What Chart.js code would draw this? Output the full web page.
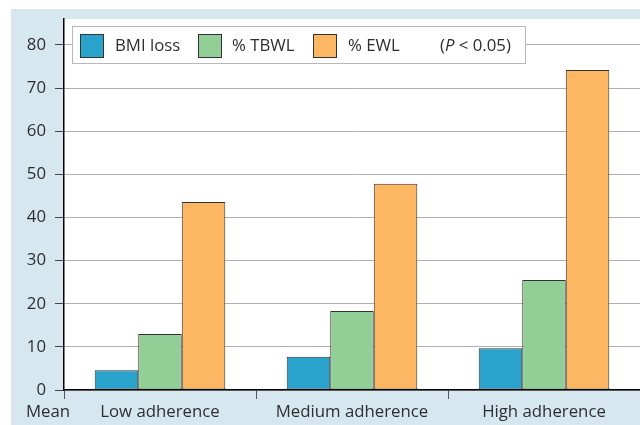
<!DOCTYPE html>
<html>
<head>
<meta charset="utf-8">
<script src="https://cdn.jsdelivr.net/npm/chart.js@4/dist/chart.umd.min.js"></script>
<style>
  html, body { margin: 0; padding: 0; background: #ffffff; }
  #wrap { position: relative; width: 640px; height: 425px; overflow: hidden; }
  #panel { position: absolute; left: 11px; top: 9px; width: 629px; height: 416px; background: #d7e7f0; }
  #c { position: absolute; left: 0; top: 0; }
</style>
</head>
<body>
<div id="wrap">
  <div id="panel"></div>
  <canvas id="c" width="640" height="425"></canvas>
</div>
<script>
const categories = ['Low adherence', 'Medium adherence', 'High adherence'];
const seriesNames = ['BMI loss', '% TBWL', '% EWL'];
const bmiLoss = [4.6, 7.7, 9.7];
const tbwl = [13.0, 18.3, 25.5];
const ewl = [43.6, 47.8, 74.2];
const yTicks = [0, 10, 20, 30, 40, 50, 60, 70, 80];
const extraAxisLabel = 'Mean';
const noteText = '(P < 0.05)';

const FONT = "'Open Sans', sans-serif";
const FS = 16.8;
const TEXT = '#2e2e2e';
const colors = ['#29a3cc', '#92cf96', '#fdb762'];

const bgPlugin = {
  id: 'bg',
  beforeDraw(chart) {
    const { ctx, chartArea: a } = chart;
    ctx.save();
    ctx.fillStyle = '#ffffff';
    ctx.fillRect(a.left, a.top, a.right - a.left, a.bottom - a.top);
    ctx.restore();
  }
};

const overlayPlugin = {
  id: 'overlay',
  afterDraw(chart) {
    const { ctx, chartArea: a } = chart;
    ctx.save();
    ctx.font = FS + 'px ' + FONT;
    ctx.fillStyle = TEXT;
    ctx.textAlign = 'center';
    ctx.textBaseline = 'middle';
    ctx.fillText(extraAxisLabel, 48, a.bottom + 9 + 3 + FS * 0.6);

    const lx = 72.5, ly = 26.5, lw = 453, lh = 37;
    ctx.fillStyle = '#ffffff';
    ctx.fillRect(lx, ly, lw, lh);
    ctx.strokeStyle = '#b8b8b8';
    ctx.lineWidth = 1;
    ctx.strokeRect(lx, ly, lw, lh);
    const swX = [80.5, 198.5, 313.5];
    const txX = [115, 232, 348];
    chart.data.datasets.forEach((ds, i) => {
      ctx.fillStyle = ds.backgroundColor;
      ctx.fillRect(swX[i], 34.5, 23, 23);
      ctx.strokeStyle = '#333333';
      ctx.strokeRect(swX[i], 34.5, 23, 23);
      ctx.fillStyle = TEXT;
      ctx.textAlign = 'left';
      ctx.textBaseline = 'middle';
      ctx.font = FS + 'px ' + FONT;
      ctx.fillText(ds.label, txX[i], 46.5);
    });
    let x = 440;
    const parts = [['(', false], ['P', true], [' < 0.05)', false]];
    parts.forEach(([t, it]) => {
      ctx.font = (it ? 'italic ' : '') + FS + 'px ' + FONT;
      ctx.fillText(t, x, 46.5);
      x += ctx.measureText(t).width;
    });
    ctx.restore();
  }
};

new Chart(document.getElementById('c'), {
  type: 'bar',
  data: {
    labels: categories,
    datasets: [
      { label: seriesNames[0], data: bmiLoss, backgroundColor: colors[0] },
      { label: seriesNames[1], data: tbwl, backgroundColor: colors[1] },
      { label: seriesNames[2], data: ewl, backgroundColor: colors[2] }
    ].map(d => Object.assign(d, { borderColor: '#333333', borderWidth: 1, borderSkipped: false, categoryPercentage: 0.68, barPercentage: 1.0 }))
  },
  options: {
    responsive: false,
    animation: false,
    layout: { padding: { left: 0, right: 0, top: 19, bottom: 0 } },
    plugins: { legend: { display: false }, tooltip: { enabled: false } },
    scales: {
      x: {
        offset: true,
        grid: { display: true, drawOnChartArea: false, drawTicks: true, tickLength: 9, color: '#555555', offset: true },
        border: { display: true, color: '#000000', width: 1.5 },
        ticks: { color: TEXT, font: { family: FONT, size: FS }, padding: 3, maxRotation: 0 },
        afterFit(s) { s.height = 35; }
      },
      y: {
        min: 0,
        max: 86,
        afterBuildTicks(s) { s.ticks = yTicks.map(v => ({ value: v })); },
        grid: { color: '#b0b0b0', lineWidth: 1, tickLength: 9, tickColor: '#444444' },
        border: { display: true, color: '#000000', width: 1.5 },
        ticks: { color: TEXT, font: { family: FONT, size: FS }, padding: 9 },
        afterFit(s) { s.width = 64; }
      }
    }
  },
  plugins: [bgPlugin, overlayPlugin]
});
</script>
</body>
</html>
